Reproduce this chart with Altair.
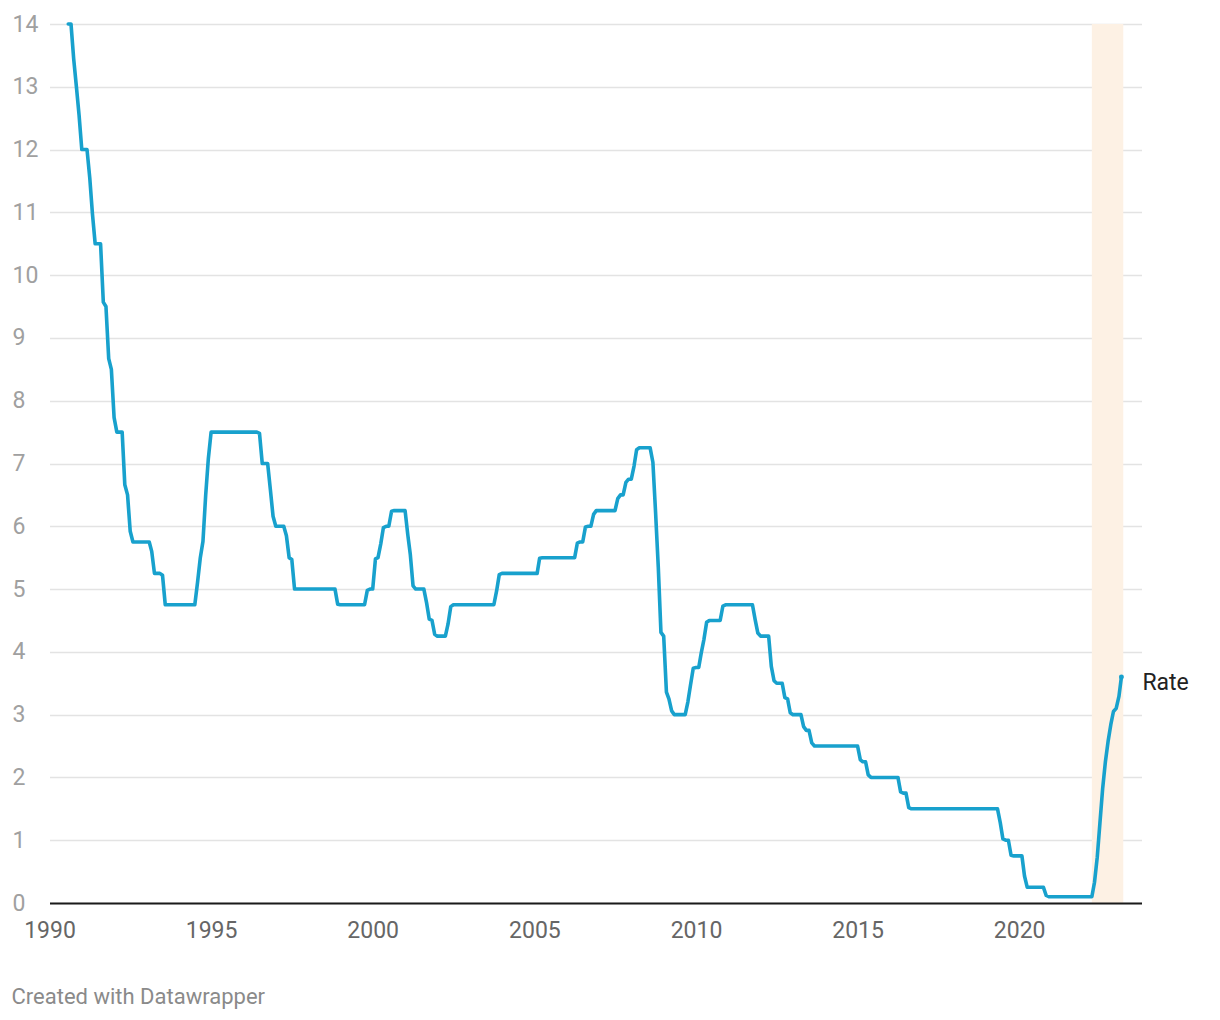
import altair as alt
import pandas as pd

# ---- data: vertices of the monthly policy-rate line (month, rate %) ----
months = [
    "1990-08", "1990-09", "1990-10", "1990-11", "1990-12", "1991-01", "1991-03", "1991-04",
    "1991-05", "1991-06", "1991-08", "1991-09", "1991-10", "1991-11", "1991-12", "1992-01",
    "1992-02", "1992-04", "1992-05", "1992-06", "1992-07", "1992-08", "1993-02", "1993-03",
    "1993-04", "1993-06", "1993-07", "1993-08", "1994-07", "1994-08", "1994-09", "1994-10",
    "1994-11", "1994-12", "1995-01", "1996-06", "1996-07", "1996-08", "1996-10", "1996-11",
    "1996-12", "1997-01", "1997-04", "1997-05", "1997-06", "1997-07", "1997-08", "1998-11",
    "1998-12", "1999-01", "1999-10", "1999-11", "1999-12", "2000-01", "2000-02", "2000-03",
    "2000-04", "2000-05", "2000-06", "2000-07", "2000-08", "2000-09", "2001-01", "2001-02",
    "2001-03", "2001-04", "2001-05", "2001-08", "2001-09", "2001-10", "2001-11", "2001-12",
    "2002-01", "2002-04", "2002-05", "2002-06", "2002-07", "2003-10", "2003-11", "2003-12",
    "2004-01", "2005-02", "2005-03", "2005-04", "2006-04", "2006-05", "2006-06", "2006-07",
    "2006-08", "2006-09", "2006-10", "2006-11", "2006-12", "2007-07", "2007-08", "2007-09",
    "2007-10", "2007-11", "2007-12", "2008-01", "2008-02", "2008-03", "2008-04", "2008-08",
    "2008-09", "2008-10", "2008-11", "2008-12", "2009-01", "2009-02", "2009-03", "2009-04",
    "2009-05", "2009-09", "2009-10", "2009-11", "2009-12", "2010-01", "2010-02", "2010-03",
    "2010-04", "2010-05", "2010-06", "2010-10", "2010-11", "2010-12", "2011-10", "2011-11",
    "2011-12", "2012-01", "2012-04", "2012-05", "2012-06", "2012-07", "2012-09", "2012-10",
    "2012-11", "2012-12", "2013-01", "2013-04", "2013-05", "2013-06", "2013-07", "2013-08",
    "2013-09", "2015-01", "2015-02", "2015-03", "2015-04", "2015-05", "2015-06", "2016-04",
    "2016-05", "2016-06", "2016-07", "2016-08", "2016-09", "2019-05", "2019-06", "2019-07",
    "2019-08", "2019-09", "2019-10", "2019-11", "2020-02", "2020-03", "2020-04", "2020-10",
    "2020-11", "2020-12", "2022-04", "2022-05", "2022-06", "2022-07", "2022-08", "2022-09",
    "2022-10", "2022-11", "2022-12", "2023-01", "2023-02", "2023-03",
]
rates = [
    14.0, 14.0, 13.45, 13.0, 12.55, 12.0, 12.0, 11.55,
    10.98, 10.5, 10.5, 9.57, 9.5, 8.67, 8.5, 7.73,
    7.5, 7.5, 6.66, 6.5, 5.92, 5.75, 5.75, 5.60,
    5.25, 5.25, 5.22, 4.75, 4.75, 5.11, 5.5, 5.76,
    6.5, 7.08, 7.5, 7.5, 7.48, 7.0, 7.0, 6.58,
    6.16, 6.0, 6.0, 5.85, 5.5, 5.47, 5.0, 5.0,
    4.76, 4.75, 4.75, 4.98, 5.0, 5.0, 5.48, 5.5,
    5.72, 5.98, 6.0, 6.0, 6.24, 6.25, 6.25, 5.86,
    5.55, 5.05, 5.0, 5.0, 4.78, 4.52, 4.5, 4.28,
    4.25, 4.25, 4.44, 4.72, 4.75, 4.75, 4.97, 5.23,
    5.25, 5.25, 5.49, 5.5, 5.5, 5.73, 5.75, 5.75,
    5.99, 6.0, 6.0, 6.19, 6.25, 6.25, 6.44, 6.5,
    6.5, 6.70, 6.75, 6.75, 6.96, 7.22, 7.25, 7.25,
    7.02, 6.23, 5.35, 4.31, 4.25, 3.36, 3.25, 3.06,
    3.0, 3.0, 3.20, 3.48, 3.74, 3.75, 3.75, 3.98,
    4.20, 4.47, 4.5, 4.5, 4.73, 4.75, 4.75, 4.51,
    4.30, 4.25, 4.25, 3.77, 3.54, 3.5, 3.5, 3.27,
    3.25, 3.03, 3.0, 3.0, 2.81, 2.75, 2.75, 2.55,
    2.5, 2.5, 2.28, 2.25, 2.25, 2.04, 2.0, 2.0,
    1.77, 1.75, 1.75, 1.52, 1.5, 1.5, 1.28, 1.02,
    1.0, 1.0, 0.76, 0.75, 0.75, 0.43, 0.25, 0.25,
    0.12, 0.10, 0.10, 0.33, 0.73, 1.27, 1.82, 2.25,
    2.57, 2.84, 3.05, 3.10, 3.29, 3.60,
]

series_label = "Rate"
band_start = ["2022-04-01"]
band_end = ["2023-03-22"]
x_domain = ["1990-01-01", "2023-10-14"]
year_ticks = [1990, 1995, 2000, 2005, 2010, 2015, 2020]
y_ticks = list(range(0, 15))
credit = "Created with Datawrapper"

FONT = "Roboto"
LINE_COLOR = "#18a1cd"

df = pd.DataFrame({"date": [m + "-01" for m in months], "rate": rates})
last = df.tail(1).assign(label=series_label)
band = pd.DataFrame({"start": band_start, "end": band_end})
note = pd.DataFrame({"t": [credit]})

x_scale = alt.Scale(
    type="utc",
    domain=[alt.DateTime(year=int(d[:4]), month=int(d[5:7]), date=int(d[8:]), utc=True) for d in x_domain],
)
y_scale = alt.Scale(domain=[0, 14], nice=False)

x_axis = alt.Axis(
    values=[alt.DateTime(year=y, month=1, date=1, utc=True) for y in year_ticks],
    format="%Y",
    title=None,
    grid=False,
    ticks=False,
    tickSize=0,
    labelFont=FONT,
    labelFontSize=23,
    labelColor="#666666",
    labelPadding=16,
    labelFlush=False,
    domainColor="#1a1a1a",
    domainWidth=2,
    zindex=1,
)
y_axis = alt.Axis(
    values=y_ticks,
    format="d",
    title=None,
    domain=False,
    ticks=False,
    tickSize=0,
    grid=True,
    gridColor="#e3e3e3",
    gridWidth=1.3,
    labelFont=FONT,
    labelFontSize=23,
    labelColor="#a0a0a0",
    labelAlign="left",
    labelPadding=37.5,
    labelFlush=False,
    labelOverlap=False,
)

rect = alt.Chart(band).mark_rect(color="#fdf1e4").encode(
    x=alt.X("start:T", scale=x_scale, axis=x_axis),
    x2="end:T",
    y=alt.datum(14, scale=y_scale, axis=y_axis),
    y2=alt.datum(0),
)

line = alt.Chart(df).mark_line(
    color=LINE_COLOR, strokeWidth=3.6, interpolate="linear", strokeJoin="round", strokeCap="round"
).encode(
    x=alt.X("date:T", scale=x_scale, axis=x_axis),
    y=alt.Y("rate:Q", scale=y_scale, axis=y_axis),
)

end_dot = alt.Chart(last).mark_circle(color=LINE_COLOR, size=24, opacity=1).encode(
    x="date:T", y="rate:Q"
)

end_label = alt.Chart(last).mark_text(
    align="left", baseline="alphabetic", dx=21, dy=13, fontSize=23, font=FONT, color="#222222"
).encode(x="date:T", y="rate:Q", text="label:N")

footer = alt.Chart(note).mark_text(
    align="left", baseline="alphabetic", fontSize=22, font=FONT, color="#8a8a8a"
).encode(x=alt.value(-38), y=alt.value(980), text="t:N")

chart = (
    alt.layer(rect, line, end_dot, end_label, footer)
    .properties(
        width=1092,
        height=879,
        autosize=alt.AutoSizeParams(type="none"),
        padding={"left": 41.5, "top": 16, "right": 60, "bottom": 112},
    )
    .configure(font=FONT)
    .configure_view(strokeWidth=0)
)

chart.save("out.html", embed_options={"renderer": "svg", "actions": False})
